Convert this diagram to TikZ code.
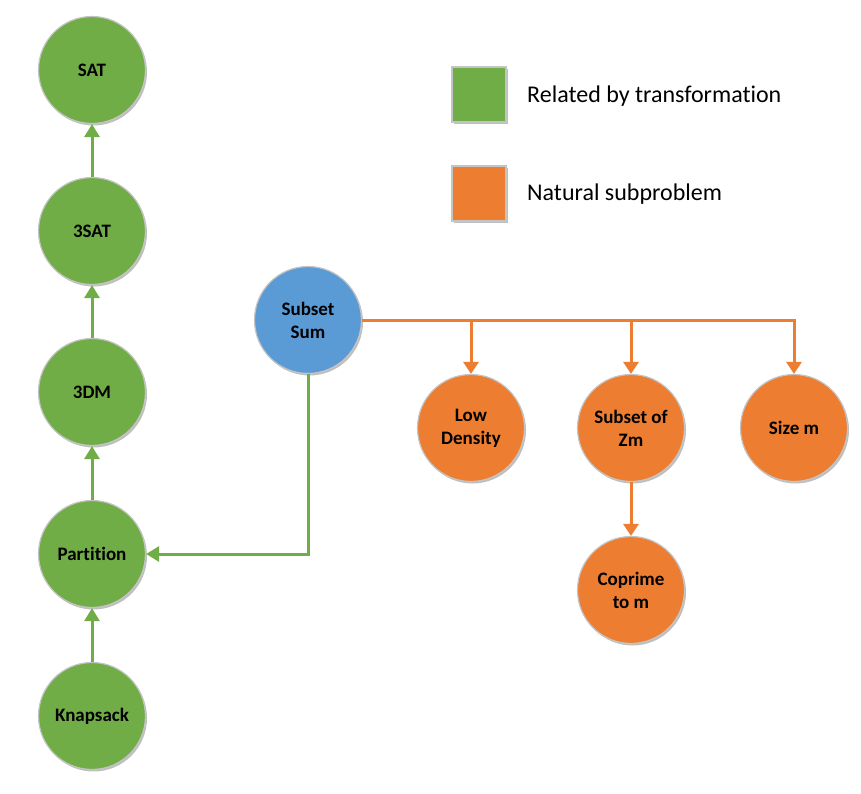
\documentclass[tikz,border=0pt]{standalone}
\usepackage{fontspec}
\setmainfont{Carlito}[Ligatures=NoCommon]
\usetikzlibrary{arrows.meta,shadows}
\definecolor{cgreen}{HTML}{70AD47}
\definecolor{corange}{HTML}{ED7D31}
\definecolor{cblue}{HTML}{5B9BD5}
\definecolor{cborder}{HTML}{C4C4C4}
\begin{document}
\begin{tikzpicture}[x=1pt,y=-1pt,
  prob/.style={circle, minimum size=107pt, inner sep=0pt, draw=cborder, line width=1.2pt,
    font=\fontsize{19}{23}\selectfont\bfseries, align=center, text=black,
    drop shadow={shadow xshift=1.5pt, shadow yshift=-2pt, opacity=0.25, fill=black}},
  gnode/.style={prob, fill=cgreen},
  onode/.style={prob, fill=corange},
  bnode/.style={prob, fill=cblue},
  legbox/.style={rectangle, minimum width=54pt, minimum height=55pt, inner sep=0pt,
    draw=cborder, line width=2pt,
    drop shadow={shadow xshift=1.5pt, shadow yshift=-2pt, opacity=0.25, fill=black}},
  legtext/.style={anchor=west, font=\fontsize{24}{28}\selectfont, inner sep=0pt},
  garrow/.style={draw=cgreen, line width=3pt, -{Triangle[width=15pt,length=13pt]}},
  oarrow/.style={draw=corange, line width=3pt, -{Triangle[width=15pt,length=12pt]}}
]
\useasboundingbox (0,0) rectangle (861,794);
% green chain
\node[gnode] (sat) at (92,70) {SAT};
\node[gnode] (tsat) at (92,231) {3SAT};
\node[gnode] (tdm) at (92,392) {3DM};
\node[gnode] (part) at (92,554) {Partition};
\node[gnode] (knap) at (92,716) {Knapsack};
% blue
\node[bnode] (ss) at (308,320) {Subset\\Sum};
% orange
\node[onode] (low) at (471,428) {Low\\Density};
\node[onode] (zm) at (631,428) {Subset of\\Zm};
\node[onode] (size) at (794,428) {Size m};
\node[onode] (cop) at (631,590) {Coprime\\to m};
% legend
\node[legbox, fill=cgreen] (lg1) at (479,95) {};
\node[legtext] (lt1) at (527,96) {Related by transformation};
\node[legbox, fill=corange] (lg2) at (479,194) {};
\node[legtext] (lt2) at (527,194) {Natural subproblem};
% connectors
\draw[garrow] (tsat) -- (sat);
\draw[garrow] (tdm) -- (tsat);
\draw[garrow] (part) -- (tdm);
\draw[garrow] (knap) -- (part);
\draw[garrow] (ss.south) |- (part.east);
\draw[oarrow] (ss.east) -| (low.north);
\draw[oarrow] (ss.east) -| (zm.north);
\draw[oarrow] (ss.east) -| (size.north);
\draw[oarrow] (zm) -- (cop);
\end{tikzpicture}
\end{document}
